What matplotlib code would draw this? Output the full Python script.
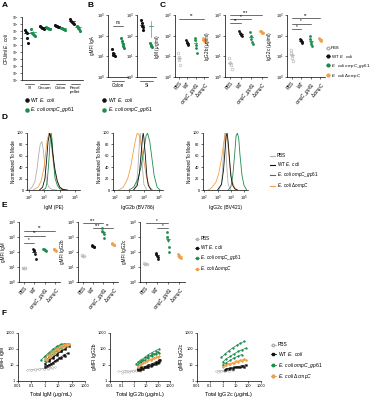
import numpy as np
import matplotlib
matplotlib.use('Agg')
import matplotlib.pyplot as plt
from matplotlib.ticker import FixedLocator, NullLocator, LogLocator

plt.rcParams['font.family'] = ['Liberation Sans', 'DejaVu Sans']
plt.rcParams['mathtext.fontset'] = 'custom'
plt.rcParams['mathtext.rm'] = 'Liberation Sans'
plt.rcParams['mathtext.it'] = 'Liberation Sans:italic'
plt.rcParams['axes.linewidth'] = 0.5

BLACK = '#111111'
GREEN = '#1d8c4e'
ORANGE = '#f0a04b'
GRAY = '#b0b0b0'

LBL_WT = r'WT $\it{E.\ coli}$'
LBL_GP = r'$\it{E.\ coli\ ompC\_gp61}$'
LBL_DO = r'$\it{E.\ coli\ \Delta ompC}$'
LBL_PBS = 'PBS'

# ---- A: CFU per group (WT vs ompC_gp61)
a_groups = ['SI', 'Cecum', 'Colon', 'Fecal\npellet']
a_wt = [[1.2e7, 8e6, 5e6, 1e6, 2e5],
        [5e7, 4e7, 3e7, 3e7, 2e7],
        [8e7, 6e7, 5e7, 4e7, 4e7],
        [5e8, 3e8, 2e8, 1.5e8, 1e8]]
a_gp = [[2e7, 6e6, 4e6, 3e6, 2e6],
        [4e7, 3e7, 3e7, 2e7, 2e7],
        [3e7, 3e7, 2e7, 2e7, 1.5e7],
        [6e7, 4e7, 3e7, 2e7, 1e7]]

# ---- B: gMFI IgA
b_sites = ['Colon', 'SI']
b_wt = [[22, 15, 12, 11, 10], [550, 400, 300, 250, 180]]
b_gp = [[80, 55, 40, 30, 25], [1300, 45, 35, 30, 28]]

# ---- C: serum Ig
c_cats = ['PBS', 'WT', r'$\it{ompC\_gp61}$', r'$\it{\Delta ompC}$']
c_ylabels = [r'IgM ($\mu$g/ml)', r'IgG2b ($\mu$g/ml)', r'IgG2c ($\mu$g/ml)']
c_igm = [[15, 9, 7, 4], [60, 50, 45, 40, 35], [80, 60, 35, 25, 15], [75, 65, 60, 55, 50]]
c_igg2b = [[8, 5, 4, 2.5], [160, 140, 120, 110, 100], [150, 100, 70, 50, 40], [170, 160, 150, 140, 130]]
c_igg2c = [[20, 15, 12, 8, 6], [70, 60, 55, 50, 45], [100, 70, 50, 40, 30], [80, 70, 65, 60, 55]]
c_sig = [[(0, 3, 650, '**')],
         [(0, 3, 1000, '***'), (0, 2, 620, '*'), (0, 1, 400, '**')],
         [(0, 3, 700, '**'), (0, 2, 380, '*'), (0, 1, 210, '*')]]

# ---- D: histograms (x in log10 fluorescence, y % of mode)
d_xlabels = ['IgM (PE)', 'IgG2b (BV786)', 'IgG2c (BV421)']
d_curves = [
    {'PBS': ([2.0, 2.2, 2.4, 2.55, 2.65, 2.75, 2.85, 2.95, 3.05, 3.15, 3.3, 3.5, 3.8],
             [0, 4, 14, 38, 62, 80, 85, 70, 40, 15, 5, 1, 0]),
     'DO': ([2.3, 2.6, 2.8, 3.0, 3.1, 3.2, 3.3, 3.4, 3.5, 3.6, 3.8, 4.0, 4.3],
            [0, 5, 15, 40, 65, 88, 100, 92, 70, 45, 18, 5, 0]),
     'WT': ([2.7, 2.9, 3.05, 3.15, 3.25, 3.35, 3.45, 3.55, 3.7, 3.85, 4.0, 4.2, 4.5],
            [0, 5, 20, 50, 85, 100, 90, 65, 35, 15, 5, 1, 0]),
     'GP': ([2.9, 3.1, 3.2, 3.3, 3.4, 3.45, 3.5, 3.6, 3.7, 3.85, 4.0, 4.3],
            [0, 3, 15, 50, 95, 100, 90, 50, 20, 8, 2, 0])},
    {'PBS': ([3.3, 3.5, 3.6, 3.7, 3.75, 3.8, 3.9, 4.0, 4.2],
             [0, 10, 40, 85, 100, 85, 40, 10, 0]),
     'DO': ([2.3, 2.6, 2.9, 3.1, 3.3, 3.45, 3.55, 3.7, 3.85, 4.0, 4.2, 4.4, 4.6],
            [0, 5, 20, 40, 70, 90, 100, 95, 75, 50, 20, 5, 0]),
     'WT': ([3.3, 3.55, 3.7, 3.8, 3.9, 3.95, 4.0, 4.1, 4.2, 4.3, 4.5],
            [0, 8, 30, 60, 90, 100, 92, 60, 25, 8, 0]),
     'GP': ([3.0, 3.3, 3.6, 3.8, 4.0, 4.15, 4.25, 4.4, 4.55, 4.7, 4.9, 5.1],
            [0, 5, 20, 40, 70, 95, 100, 85, 55, 25, 5, 0])},
    {'PBS': ([3.1, 3.3, 3.4, 3.5, 3.55, 3.6, 3.7, 3.8, 4.0],
             [0, 10, 45, 85, 100, 85, 40, 10, 0]),
     'DO': ([2.3, 2.6, 2.9, 3.1, 3.3, 3.45, 3.6, 3.7, 3.8, 3.95, 4.1, 4.3, 4.5],
            [0, 5, 15, 30, 55, 80, 100, 95, 75, 40, 15, 4, 0]),
     'WT': ([3.0, 3.3, 3.45, 3.55, 3.65, 3.72, 3.8, 3.9, 4.0, 4.15, 4.3, 4.5],
            [0, 10, 35, 65, 95, 100, 85, 55, 25, 8, 2, 0]),
     'GP': ([3.8, 4.0, 4.15, 4.3, 4.4, 4.5, 4.6, 4.7, 4.85, 5.0, 5.2],
            [0, 5, 25, 65, 95, 100, 90, 60, 25, 8, 0])},
]

# ---- E: gMFI of bacteria-bound Ig
e_ylabels = ['gMFI IgM', 'gMFI IgG2b', 'gMFI IgG2c']
e_igm = [[9, 8.5, 8, 8], [160, 130, 110, 70, 35], [160, 150, 140, 130, 120], [170, 150, 140, 130, 110]]
e_igg2b = [[60, 58, 55, 55], [280, 250, 240, 220, 200], [4000, 2500, 2000, 1500, 800], [400, 350, 320, 300, 280]]
e_igg2c = [[18, 17, 16, 16], [90, 70, 55, 45, 35], [2000, 1000, 600, 200, 100], [70, 60, 50, 45, 40]]
e_sig = [[(0, 3, 2600, '**'), (0, 2, 1200, '**'), (0, 1, 420, '*')],
         [(0, 2, 8500, '***'), (1, 2, 4000, '***'), (2, 3, 4000, '**')],
         [(0, 2, 8000, '*'), (1, 2, 4000, '*')]]

# ---- F: gMFI vs total Ig, one dilution series per mouse
f_xlabels = [r'Total IgM ($\mu$g/mL)', r'Total IgG2b ($\mu$g/mL)', r'Total IgG2c ($\mu$g/mL)']
f_ylabels = ['gMFI IgM', 'gMFI IgG2b', 'gMFI IgG2c']
f_series = [
    {'PBS': [([0.05, 0.1, 0.2, 0.4, 0.8, 1.6, 3.2], [5, 5, 5, 5.5, 6, 6, 6.5]),
             ([0.1, 0.2, 0.4, 0.8, 1.6, 3.2, 6], [5, 5.5, 5.5, 6, 6.5, 7, 7])],
     'WT': [([1.5, 3, 6, 12, 25, 50], [9, 12, 18, 28, 40, 55]),
            ([1, 2, 4, 8, 16, 32], [12, 18, 28, 45, 70, 95]),
            ([2, 4, 8, 16, 32, 64], [20, 30, 50, 75, 110, 150]),
            ([1, 2, 4, 8, 16, 32], [8, 10, 14, 20, 28, 35])],
     'GP': [([0.5, 1, 2, 4, 8, 16, 32], [20, 35, 60, 100, 150, 200, 220]),
            ([1, 2, 4, 8, 16, 32], [30, 50, 80, 130, 180, 200]),
            ([2, 4, 8, 16, 32, 64], [40, 70, 110, 160, 200, 220]),
            ([1, 2, 4, 8, 16, 32], [18, 30, 50, 80, 120, 160])],
     'DO': [([1, 2, 4, 8, 16, 32, 64], [25, 45, 70, 110, 160, 200, 210]),
            ([2, 4, 8, 16, 32, 64], [35, 60, 100, 150, 190, 220]),
            ([1.5, 3, 6, 12, 25, 50], [20, 35, 55, 90, 130, 170])]},
    {'PBS': [([0.05, 0.1, 0.2, 0.4, 0.8, 1.6], [4, 4, 4.5, 4, 4.5, 5]),
             ([0.1, 0.2, 0.4, 0.8, 1.6, 3.2], [3, 3.5, 3.5, 4, 4, 4.5])],
     'WT': [([2, 4, 8, 16, 32, 64, 128], [5, 6, 7, 8, 10, 12, 15]),
            ([2, 4, 8, 16, 32, 64, 128], [6, 7, 8, 10, 12, 15, 20]),
            ([3, 6, 12, 25, 50, 100, 150], [5, 6, 7, 9, 11, 14, 22])],
     'GP': [([2, 4, 8, 16, 32, 64, 128], [15, 22, 30, 45, 60, 80, 100]),
            ([2, 4, 8, 16, 32, 64, 128], [10, 15, 20, 28, 38, 50, 60]),
            ([1.5, 3, 6, 12, 25, 50, 100], [12, 16, 22, 30, 40, 50, 65])],
     'DO': [([2, 4, 8, 16, 32, 64, 128], [8, 12, 16, 20, 25, 30, 35]),
            ([3, 6, 12, 25, 50, 100], [10, 13, 17, 22, 28, 32])]},
    {'PBS': [([0.3, 0.6, 1.2, 2.5, 5], [4, 4.5, 4.5, 5, 5]),
             ([0.4, 0.8, 1.6, 3.2, 6], [3.5, 4, 4, 4.5, 5])],
     'WT': [([1.5, 3, 6, 12, 25, 50], [5, 6, 6, 7, 7, 8]),
            ([2, 4, 8, 16, 32, 64], [6, 6.5, 7, 8, 9, 10])],
     'GP': [([0.8, 1.6, 3.2, 6.4, 12.8, 25, 50], [30, 50, 80, 120, 170, 230, 300]),
            ([1, 2, 4, 8, 16, 32, 64], [15, 25, 35, 50, 70, 90, 110]),
            ([1, 2, 4, 8, 16, 32], [10, 14, 20, 28, 35, 45])],
     'DO': [([1, 2, 4, 8, 16, 32, 64], [8, 10, 12, 14, 16, 18, 20]),
            ([1.5, 3, 6, 12, 25, 50], [10, 12, 14, 17, 20, 24])]},
]

COLORS = {'PBS': GRAY, 'WT': BLACK, 'GP': GREEN, 'DO': ORANGE}
LABELS = {'PBS': LBL_PBS, 'WT': LBL_WT, 'GP': LBL_GP, 'DO': LBL_DO}
KEYS = ['PBS', 'WT', 'GP', 'DO']

W, H = 371, 400
fig = plt.figure(figsize=(W / 100, H / 100), dpi=100)
FS = 3.3


def px_axes(x0, y0, x1, y1):
    return fig.add_axes([x0 / W, 1 - y1 / H, (x1 - x0) / W, (y1 - y0) / H])


def style(ax, lsize=None):
    for s in ['top', 'right']:
        ax.spines[s].set_visible(False)
    ax.tick_params(labelsize=lsize or (FS - 0.5), length=1.5, width=0.4, pad=1)
    ax.tick_params(which='minor', length=0)


def log_y(ax, lo, hi):
    ax.set_yscale('log')
    ax.set_ylim(lo, hi)
    ax.yaxis.set_major_locator(LogLocator(base=10, numticks=20))
    ax.yaxis.set_minor_locator(NullLocator())


def dots(ax, x, vals, color, hollow=False, size=4):
    n = len(vals)
    off = np.linspace(-0.12, 0.12, n) if n > 1 else [0]
    if hollow:
        ax.scatter(x + np.asarray(off), vals, s=size, facecolor='white', edgecolor=color, lw=0.4, zorder=3)
    else:
        ax.scatter(x + np.asarray(off), vals, s=size, color=color, lw=0, zorder=3)
    m = np.mean(vals)
    se = np.std(vals) / np.sqrt(n)
    ax.plot([x - 0.2, x + 0.2], [m, m], color=color, lw=0.5, zorder=4)
    ax.plot([x, x], [max(m - se, m * 0.3), m + se], color=color, lw=0.4, zorder=4)


def sig(ax, x1, x2, y, txt):
    ax.plot([x1, x2], [y, y], color='black', lw=0.4, clip_on=False)
    ax.text((x1 + x2) / 2, y * 1.05, txt, ha='center', va='bottom', fontsize=FS, clip_on=False)


def letter(x, y, t):
    fig.text(x / W, 1 - y / H, t, fontsize=6, fontweight='bold', va='top', ha='left')


# ---------- A
ax = px_axes(22, 17, 83, 80)
style(ax, lsize=2.3)
log_y(ax, 1, 1e9)
for i in range(len(a_groups)):
    dots(ax, i - 0.2, a_wt[i], BLACK, size=5)
    dots(ax, i + 0.2, a_gp[i], GREEN, size=5)
    ax.plot([i - 0.3, i + 0.3], [-0.06, -0.06], color='black', lw=0.4,
            transform=ax.get_xaxis_transform(), clip_on=False)
ax.set_xlim(-0.5, len(a_groups) - 0.5)
ax.set_xticks(range(len(a_groups)))
ax.set_xticklabels(a_groups, fontsize=FS - 0.1)
ax.tick_params(axis='x', length=0, pad=4)
ax.set_ylabel(r'CFU/ml $\it{E.\ coli}$', fontsize=FS, labelpad=1)
h1 = ax.scatter([], [], s=5, color=BLACK, label=LBL_WT)
h2 = ax.scatter([], [], s=5, color=GREEN, label=LBL_GP)
fig.legend(handles=[h1, h2], loc='upper left', bbox_to_anchor=(22 / W, 1 - 93 / H),
           frameon=False, fontsize=FS + 0.3, handletextpad=0.3, labelspacing=0.4,
           borderpad=0, handlelength=0.8)

# ---------- B
for k, (x0, x1) in enumerate([(108, 128), (137, 156)]):
    ax = px_axes(x0, 15, x1, 77)
    style(ax)
    log_y(ax, 1, 1e3)
    dots(ax, 0, b_wt[k], BLACK, size=5)
    dots(ax, 1, b_gp[k], GREEN, size=5)
    ax.set_xlim(-0.6, 1.6)
    ax.set_xticks([0.5])
    ax.set_xticklabels([b_sites[k]], fontsize=FS)
    ax.tick_params(axis='x', length=0, pad=4)
    ax.plot([-0.2, 1.2], [-0.06, -0.06], color='black', lw=0.4,
            transform=ax.get_xaxis_transform(), clip_on=False)
    if k == 0:
        ax.set_ylabel('gMFI IgA', fontsize=FS, labelpad=1)
        sig(ax, 0, 1, 300, 'ns')
fig.legend(handles=[h1, h2], loc='upper left', bbox_to_anchor=(100 / W, 1 - 93 / H),
           frameon=False, fontsize=FS + 0.3, handletextpad=0.3, labelspacing=0.4,
           borderpad=0, handlelength=0.8)


def group_panel(ax, data, ylabel, lo, hi, sigs):
    style(ax)
    log_y(ax, lo, hi)
    for i, key in enumerate(KEYS):
        dots(ax, i, data[i], COLORS[key], hollow=(key == 'PBS'), size=4)
    ax.set_xlim(-0.5, 3.5)
    ax.set_xticks(range(4))
    ax.set_xticklabels(c_cats, rotation=50, ha='right', rotation_mode='anchor', fontsize=FS)
    ax.set_ylabel(ylabel, fontsize=FS, labelpad=1)
    for (a, b, y, t) in sigs:
        sig(ax, a, b, y, t)


# ---------- C
c_data = [c_igm, c_igg2b, c_igg2c]
for k, (x0, x1) in enumerate([(175, 208), (225, 267), (287, 325)]):
    ax = px_axes(x0, 15, x1, 77)
    group_panel(ax, c_data[k], c_ylabels[k], 1, 1e3, c_sig[k])


def marker_handles(ms=2):
    hs = []
    for key in KEYS:
        hs.append(plt.Line2D([], [], color=COLORS[key], marker='o', ms=ms, lw=0.5,
                             mfc='white' if key == 'PBS' else COLORS[key], label=LABELS[key]))
    return hs


fig.legend(handles=marker_handles(), loc='upper left', bbox_to_anchor=(324 / W, 1 - 44 / H),
           frameon=False, fontsize=FS - 0.1, handletextpad=0.3, labelspacing=0.5,
           borderpad=0, handlelength=0.8)

# ---------- D
for k, (x0, x1) in enumerate([(27, 80), (113, 163), (203, 248)]):
    ax = px_axes(x0, 133, x1, 190)
    style(ax)
    for key in ['PBS', 'DO', 'GP', 'WT']:
        xs, ys = d_curves[k][key]
        ax.plot(np.power(10.0, xs), ys, color=COLORS[key], lw=0.6)
    ax.set_xscale('log')
    ax.set_xlim(10 ** 1.9, 10 ** 5.3)
    ax.xaxis.set_major_locator(FixedLocator([1e2, 1e3, 1e4, 1e5]))
    ax.xaxis.set_minor_locator(NullLocator())
    ax.set_ylim(0, 100)
    ax.set_yticks([0, 20, 40, 60, 80, 100])
    ax.set_ylabel('Normalized To Mode', fontsize=FS, labelpad=1)
    ax.set_xlabel(d_xlabels[k], fontsize=FS + 0.3, labelpad=1.5)

d_handles = [plt.Line2D([], [], color=COLORS[k], lw=0.8, label=LABELS[k]) for k in KEYS]
fig.legend(handles=d_handles, loc='upper left', bbox_to_anchor=(268 / W, 1 - 151 / H),
           frameon=False, fontsize=FS, handletextpad=0.4, labelspacing=0.45,
           borderpad=0, handlelength=1.0)

# ---------- E
e_data = [e_igm, e_igg2b, e_igg2c]
for k, (x0, x1) in enumerate([(19, 60), (78, 118), (140, 185)]):
    ax = px_axes(x0, 222, x1, 282)
    group_panel(ax, e_data[k], e_ylabels[k], 1, 1e4, e_sig[k])

fig.legend(handles=marker_handles(1.5), loc='upper left', bbox_to_anchor=(193 / W, 1 - 234 / H),
           frameon=False, fontsize=FS, handletextpad=0.3, labelspacing=0.45,
           borderpad=0, handlelength=0.8)

# ---------- F
MK = {'PBS': 'o', 'WT': 's', 'GP': 'o', 'DO': 'D'}
for k, (x0, x1) in enumerate([(18, 85), (110, 170), (197, 261)]):
    ax = px_axes(x0, 333, x1, 381)
    style(ax)
    for key in KEYS:
        for xs, ys in f_series[k][key]:
            ax.plot(xs, ys, color=COLORS[key], lw=0.5, marker=MK[key], ms=1.3,
                    mfc='white' if key == 'PBS' else COLORS[key], mew=0.3)
    ax.set_xscale('log')
    ax.set_yscale('log')
    ax.set_xlim(0.01, 1000)
    ax.set_ylim(1, 1000)
    ax.xaxis.set_major_locator(FixedLocator([0.01, 0.1, 1, 10, 100, 1000]))
    ax.set_xticklabels(['0.01', '0.1', '1', '10', '100', '1000'])
    ax.yaxis.set_major_locator(FixedLocator([1, 10, 100, 1000]))
    ax.set_yticklabels(['1', '10', '100', '1000'])
    ax.xaxis.set_minor_locator(NullLocator())
    ax.yaxis.set_minor_locator(NullLocator())
    ax.set_xlabel(f_xlabels[k], fontsize=FS + 0.6, labelpad=1)
    ax.set_ylabel(f_ylabels[k], fontsize=FS + 0.3, labelpad=1)

f_handles = [plt.Line2D([], [], color=COLORS[k], lw=0.6, marker=MK[k], ms=1.8,
                        mfc='white' if k == 'PBS' else COLORS[k], label=LABELS[k]) for k in KEYS]
fig.legend(handles=f_handles, loc='upper left', bbox_to_anchor=(268 / W, 1 - 340 / H),
           frameon=False, fontsize=FS + 0.3, handletextpad=0.4, labelspacing=0.5,
           borderpad=0, handlelength=1.0)

letter(2, 2, 'A')
letter(88, 2, 'B')
letter(160, 2, 'C')
letter(2, 114, 'D')
letter(2, 202, 'E')
letter(2, 310, 'F')

fig.savefig('out.png', dpi=100)
